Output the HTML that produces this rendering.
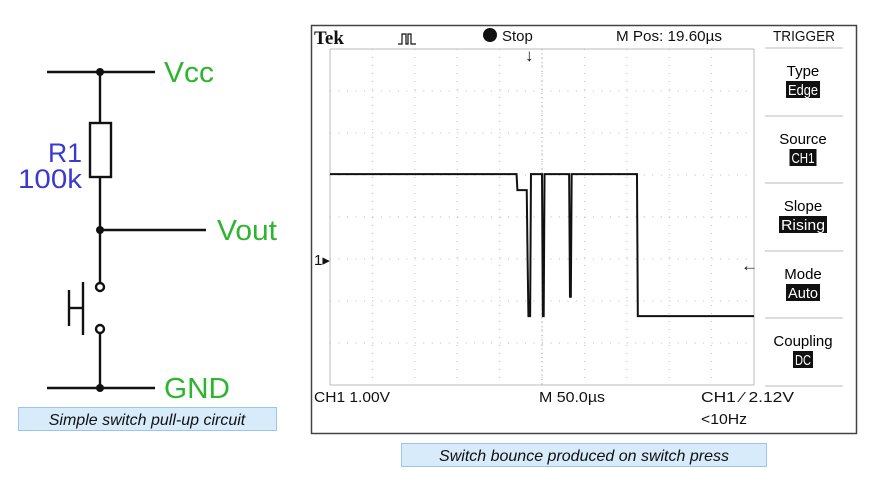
<!DOCTYPE html>
<html><head><meta charset="utf-8"><style>
body{margin:0;width:895px;height:492px;background:#fff;overflow:hidden;font-family:"Liberation Sans",sans-serif}
svg{position:absolute;left:0;top:0}
</style></head><body>
<svg width="895" height="492" font-family="Liberation Sans, sans-serif">
<g stroke="#111" stroke-width="2.4" fill="none">
 <line x1="47" y1="72" x2="155" y2="72"/>
 <line x1="47" y1="388" x2="155" y2="388"/>
 <line x1="100" y1="72" x2="100" y2="123"/>
 <rect x="90" y="123" width="21" height="54"/>
 <line x1="100" y1="177" x2="100" y2="283"/>
 <line x1="100" y1="230" x2="206" y2="230"/>
 <circle cx="100" cy="287" r="4"/>
 <circle cx="100" cy="329" r="4"/>
 <line x1="100" y1="333" x2="100" y2="388"/>
 <g><line x1="69" y1="290" x2="69" y2="326"/><line x1="69" y1="308" x2="83" y2="308"/><line x1="83" y1="282" x2="83" y2="335"/></g>
 <g fill="#111" stroke="none"><circle cx="100" cy="72" r="4"/><circle cx="100" cy="230" r="4"/><circle cx="100" cy="388" r="4"/></g>
</g>
<g font-size="29" fill="#2eb52e">
 <text x="164" y="82" textLength="50" lengthAdjust="spacingAndGlyphs">Vcc</text>
 <text x="217" y="240" textLength="60" lengthAdjust="spacingAndGlyphs">Vout</text>
 <text x="164" y="398" textLength="66" lengthAdjust="spacingAndGlyphs">GND</text>
</g>
<g font-size="27" fill="#3a3ad0">
 <text x="48" y="162" textLength="34" lengthAdjust="spacingAndGlyphs">R1</text>
 <text x="18" y="188" textLength="64" lengthAdjust="spacingAndGlyphs">100k</text>
</g>
<rect x="18.5" y="407.5" width="258" height="23" fill="#d7ebfb" stroke="#9cc4ee"/>
<text x="147" y="425" font-size="16" font-style="italic" text-anchor="middle" fill="#111">Simple switch pull-up circuit</text>

<rect x="311.5" y="25.5" width="545" height="408" fill="#fff" stroke="#444" stroke-width="1.5"/>
<g id="grid"></g>
<polyline id="trace" fill="none" stroke="#111" stroke-width="2"/>
<g font-size="15" fill="#111">
 <text x="314" y="44" font-family="Liberation Serif, serif" font-weight="bold" font-size="19">Tek</text>
 <path d="M398 44 h4 v-10 h4 v10 h2 v-10 h3 v10 h5" stroke="#111" fill="none" stroke-width="1.2"/>
 <circle cx="490" cy="35" r="7"/>
 <text x="502" y="41">Stop</text>
 <text x="616" y="41" textLength="106" lengthAdjust="spacingAndGlyphs">M Pos: 19.60µs</text>
 <text x="773" y="41" textLength="62" lengthAdjust="spacingAndGlyphs">TRIGGER</text>
 <text x="314" y="402" textLength="76" lengthAdjust="spacingAndGlyphs">CH1  1.00V</text>
 <text x="539" y="402" textLength="66" lengthAdjust="spacingAndGlyphs">M 50.0µs</text>
 <text x="701" y="402" textLength="93" lengthAdjust="spacingAndGlyphs">CH1 ⁄ 2.12V</text>
 <text x="701" y="424" textLength="46" lengthAdjust="spacingAndGlyphs">&lt;10Hz</text>
 <text x="314" y="265">1▸</text>
 <text x="741" y="271" font-weight="bold" font-size="17">←</text>
 <text x="525" y="61" font-weight="bold" font-size="17">↓</text>
</g>
<g id="menu" font-size="15" text-anchor="middle"></g>

<rect x="401.5" y="443.5" width="365" height="23" fill="#d7ebfb" stroke="#9cc4ee"/>
<text x="584" y="461" font-size="16" font-style="italic" text-anchor="middle" fill="#111">Switch bounce produced on switch press</text>
</svg>
<script>
const timesUs=[0,220,221,226,232,233,234,236,237,250,251,252,253,282,283,284,285,362,363,500];
const volts=[2.02,2.02,1.64,1.64,1.64,0.02,-1.36,-1.36,2.02,2.02,-1.36,-1.36,2.02,2.02,-0.9,-0.9,2.02,2.02,-1.36,-1.36];
const menuLabels=["Type","Source","Slope","Mode","Coupling"];
const menuValues=["Edge","CH1","Rising","Auto","DC"];
const NS="http://www.w3.org/2000/svg";
const X0=330,X1=754,Y0=49,Y1=385,GND=259,VDIV=42;
const xS=t=>X0+t/500*(X1-X0);
const yS=v=>GND-v*VDIV;
const grid=document.getElementById('grid');
function ln(x1,y1,x2,y2,st,dash){const l=document.createElementNS(NS,'line');l.setAttribute('x1',x1);l.setAttribute('y1',y1);l.setAttribute('x2',x2);l.setAttribute('y2',y2);l.setAttribute('stroke',st);if(dash)l.setAttribute('stroke-dasharray',dash);grid.appendChild(l);return l;}
for(let i=0;i<=10;i++){const x=X0+i*(X1-X0)/10;ln(x,Y0,x,Y1,'#bbb',(i==0||i==10)?null:'1 7');}
for(let j=0;j<=8;j++){const y=Y0+j*(Y1-Y0)/8;ln(X0,y,X1,y,'#bbb',(j==0||j==8)?null:'1 7.48');}
ln(X0,Y0+4*(Y1-Y0)/8,X1,Y0+4*(Y1-Y0)/8,'#bbb','1 7.48');
ln((X0+X1)/2,Y0,(X0+X1)/2,Y1,'#999','1 3.4');
document.getElementById('trace').setAttribute('points',timesUs.map((t,i)=>xS(t)+','+yS(volts[i])).join(' '));
const menu=document.getElementById('menu');
const seps=[48,116,183,251,318,386];
seps.forEach(y=>{const l=document.createElementNS(NS,'line');l.setAttribute('x1',765);l.setAttribute('x2',843);l.setAttribute('y1',y);l.setAttribute('y2',y);l.setAttribute('stroke','#bbb');menu.appendChild(l);});
menuLabels.forEach((lab,i)=>{
 const yt=seps[i];
 const g=document.createElementNS(NS,'g');
 
 
 const t=document.createElementNS(NS,'text');t.setAttribute('x',803);t.setAttribute('y',yt+28);t.textContent=lab;g.appendChild(t);
 const w=menuValues[i].length*7+6;
 const r=document.createElementNS(NS,'rect');r.setAttribute('x',803-w/2);r.setAttribute('y',yt+33);r.setAttribute('width',w);r.setAttribute('height',17);r.setAttribute('fill','#111');g.appendChild(r);
 const v=document.createElementNS(NS,'text');v.setAttribute('x',803);v.setAttribute('y',yt+47);v.setAttribute('fill','#fff');v.setAttribute('textLength',w-4);v.setAttribute('lengthAdjust','spacingAndGlyphs');v.textContent=menuValues[i];g.appendChild(v);
 menu.appendChild(g);
});
</script>
</body></html>
